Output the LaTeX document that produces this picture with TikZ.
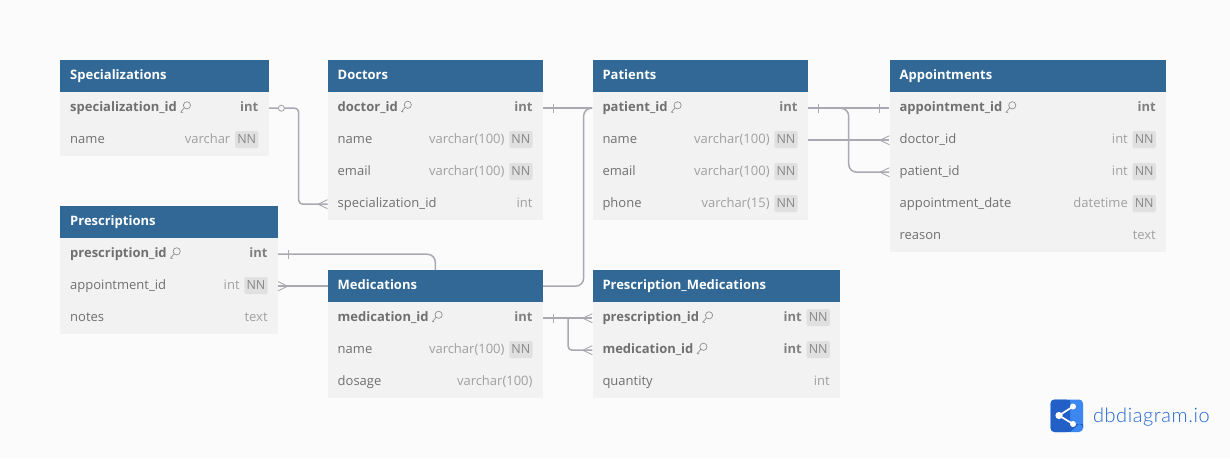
\documentclass[tikz,border=0pt]{standalone}
\usepackage{fontspec}
\setmainfont{Open Sans}
\newfontfamily\logofont[LetterSpace=2.9]{Lato Light}
\usetikzlibrary{calc}
\definecolor{pagebg}{HTML}{FBFBFB}
\definecolor{headblue}{HTML}{316896}
\definecolor{rowbg}{HTML}{F2F2F2}
\definecolor{nametxt}{HTML}{707070}
\definecolor{typetxt}{HTML}{A0A0A0}
\definecolor{badgebg}{HTML}{E0E0E0}
\definecolor{linkgray}{HTML}{A9A9B1}
\definecolor{logodark}{HTML}{2260C8}
\definecolor{logolight}{HTML}{3C86F0}
\definecolor{logotxt}{HTML}{2266D0}
\tikzset{
  x=1pt,y=-1pt,
  headbox/.style={fill=headblue,text=white,font=\fontsize{13}{13}\selectfont\bfseries,minimum height=32pt,inner xsep=10pt,inner ysep=0pt,text height=10pt,text depth=3pt,anchor=north west,align=left},
  rowbox/.style={fill=rowbg,minimum height=32pt,inner sep=0pt,anchor=north west},
  pkname/.style={text=nametxt,font=\fontsize{13}{13}\selectfont\bfseries,inner sep=0pt,anchor=base west},
  plainname/.style={text=nametxt,font=\fontsize{13}{13}\selectfont,inner sep=0pt,anchor=base west},
  pktype/.style={text=typetxt!80!black,font=\fontsize{13}{13}\selectfont\bfseries,inner sep=0pt,anchor=base east},
  plaintype/.style={text=typetxt,font=\fontsize{13}{13}\selectfont,inner sep=0pt,anchor=base east},
  nnbadge/.style={fill=badgebg,text=typetxt!85!black,font=\fontsize{12.5}{12.5}\selectfont,rounded corners=2pt,inner xsep=2.2pt,inner ysep=0pt,minimum height=17pt,anchor=east},
  link/.style={draw=linkgray,line width=1.5pt,rounded corners=8pt},
  tight link/.style={link,rounded corners=4pt},
  mark line/.style={draw=linkgray,line width=.9pt},
  keyline/.style={draw=typetxt!90!black,line width=.7pt}
}
% \thead{id}{x}{y}{w}{title}
\newcommand\thead[5]{\node[headbox,minimum width=#4pt,text width=#4pt-20pt] (#1) at (#2,#3) {#5};}
% key glyph placed after a node
\newcommand\keyglyph[1]{%
  \draw[keyline] ($(#1.east)+(9.8,-3)$) circle[radius=3.6pt];
  \draw[keyline] ($(#1.east)+(7.2,-0.5)$) -- ($(#1.east)+(3.6,3.8)$) -- ++(2,0.4);
}
\newcommand\trowbase[4]{\node[rowbox,minimum width=#4pt] (#1) at (#2,#3) {};}
\newcommand\pkrow[6]{\trowbase{#1}{#2}{#3}{#4}
  \node[pkname] (#1n) at (#2+10,#3+19.7) {#5}; \keyglyph{#1n}
  \node[pktype] (#1t) at (#2+#4-10,#3+19.7) {#6};}
\newcommand\pknnrow[6]{\trowbase{#1}{#2}{#3}{#4}
  \node[pkname] (#1n) at (#2+10,#3+19.7) {#5}; \keyglyph{#1n}
  \node[nnbadge] (#1b) at (#2+#4-10,#3+15.5) {NN};
  \node[pktype] (#1t) at ($(#1b.east |- 0,#3+19.7)+(-28,0)$) {#6};}
\newcommand\nnrow[6]{\trowbase{#1}{#2}{#3}{#4}
  \node[plainname] (#1n) at (#2+10,#3+19.7) {#5};
  \node[nnbadge] (#1b) at (#2+#4-10,#3+15.5) {NN};
  \node[plaintype] (#1t) at ($(#1b.east |- 0,#3+19.7)+(-28,0)$) {#6};}
\newcommand\plrow[6]{\trowbase{#1}{#2}{#3}{#4}
  \node[plainname] (#1n) at (#2+10,#3+19.7) {#5};
  \node[plaintype] (#1t) at (#2+#4-10,#3+19.7) {#6};}
% crow's foot ending on the west side of a node at its mid height
\newcommand\crowwest[1]{\draw[mark line] (#1.west) ++(-9.5,0) -- ++(9.5,-4.5) ++(-9.5,4.5) -- ++(9.5,4.5);}
\newcommand\croweast[1]{\draw[mark line] (#1.east) ++(9.5,0) -- ++(-9.5,-4.5) ++(9.5,4.5) -- ++(-9.5,4.5);}
\newcommand\barat[2]{\draw[mark line] ($(#1)+(#2,-4.5)$) -- ($(#1)+(#2,4.5)$);}
\begin{document}
\begin{tikzpicture}
\useasboundingbox (0,0) rectangle (1230,458);
\fill[pagebg] (0,0) rectangle (1230,458);

% Specializations
\thead{spec}{60}{60}{208.5}{Specializations}
\pkrow{specA}{60}{92}{208.5}{specialization\_id}{int}
\nnrow{specB}{60}{124}{208.5}{name}{varchar}
% Doctors
\thead{doc}{327.5}{60}{215.2}{Doctors}
\pkrow{docA}{327.5}{92}{215.2}{doctor\_id}{int}
\nnrow{docB}{327.5}{124}{215.2}{name}{varchar(100)}
\nnrow{docC}{327.5}{156}{215.2}{email}{varchar(100)}
\plrow{docD}{327.5}{188}{215.2}{specialization\_id}{int}
% Patients
\thead{pat}{592.3}{60}{215.5}{Patients}
\pkrow{patA}{592.3}{92}{215.5}{patient\_id}{int}
\nnrow{patB}{592.3}{124}{215.5}{name}{varchar(100)}
\nnrow{patC}{592.3}{156}{215.5}{email}{varchar(100)}
\nnrow{patD}{592.3}{188}{215.5}{phone}{varchar(15)}
% Appointments
\thead{app}{889.4}{60}{276.6}{Appointments}
\pkrow{appA}{889.4}{92}{276.6}{appointment\_id}{int}
\nnrow{appB}{889.4}{124}{276.6}{doctor\_id}{int}
\nnrow{appC}{889.4}{156}{276.6}{patient\_id}{int}
\nnrow{appD}{889.4}{188}{276.6}{appointment\_date}{datetime}
\plrow{appE}{889.4}{220}{276.6}{reason}{text}
% Prescriptions
\thead{pre}{60}{206}{217.8}{Prescriptions}
\pkrow{preA}{60}{238}{217.8}{prescription\_id}{int}
\nnrow{preB}{60}{270}{217.8}{appointment\_id}{int}
\plrow{preC}{60}{302}{217.8}{notes}{text}
% Medications
\thead{med}{327.5}{270}{215.2}{Medications}
\pkrow{medA}{327.5}{302}{215.2}{medication\_id}{int}
\nnrow{medB}{327.5}{334}{215.2}{name}{varchar(100)}
\plrow{medC}{327.5}{366}{215.2}{dosage}{varchar(100)}
% Prescription_Medications
\thead{pm}{592.3}{270}{247.7}{Prescription\_Medications}
\pknnrow{pmA}{592.3}{302}{247.7}{prescription\_id}{int}
\pknnrow{pmB}{592.3}{334}{247.7}{medication\_id}{int}
\plrow{pmC}{592.3}{366}{247.7}{quantity}{int}

% Connectors
\draw[tight link] (specA.east) -- ($(specA.east)+(29.8,0)$) |- (docD.west);
\fill[pagebg] ($(specA.east)+(12.5,0)$) circle[radius=3pt];
\draw[mark line] ($(specA.east)+(12.5,0)$) circle[radius=3pt];
\crowwest{docD}

\draw[link] (docA.east) -- (patA.west);
\barat{docA.east}{10}
\draw[link] (med.east) -- ($(med.east)+(40.5,0)$) |- (patA.west);

\draw[link] (patA.east) -- (appA.west);
\barat{patA.east}{10}
\barat{appA.west}{-10}
\draw[link] (patB.east) -- (appB.west);
\crowwest{appB}
\draw[link] (patA.east) -- ($(patA.east)+(40.5,0)$) |- (appC.west);
\crowwest{appC}

\draw[link] (preA.east) -| (med.north);
\barat{preA.east}{10}
\draw[link] (preB.east) -- (med.west);
\croweast{preB}

\draw[link] (medA.east) -- (pmA.west);
\barat{medA.east}{10}
\crowwest{pmA}
\draw[tight link] ($(medA.east)+(25,0)$) |- (pmB.west);
\crowwest{pmB}

% Logo
\fill[logolight,rounded corners=4pt] (1050.5,399.5) rectangle (1083,432);
\fill[logodark,rounded corners=4pt] (1050.5,399.5) rectangle (1070,432);
\fill[logodark] (1064,399.5) rectangle (1070,432);
\fill[logodark] (1070,424) -- (1083,424) -- (1083,428) arc[start angle=0,end angle=90,radius=4pt] -- (1070,432) -- cycle;
\draw[white,line width=1.7pt] (1073,406.5) -- (1059,415.5) -- (1073,424);
\fill[white] (1059,415.5) circle[radius=3.6pt] (1073,406.5) circle[radius=3pt] (1073,424) circle[radius=3pt];
\node[text=logotxt,font=\logofont\fontsize{20}{20}\selectfont,inner sep=0pt,anchor=base west] (logo) at (1092.8,422.7) {dbdiagram.io};
\end{tikzpicture}
\end{document}
